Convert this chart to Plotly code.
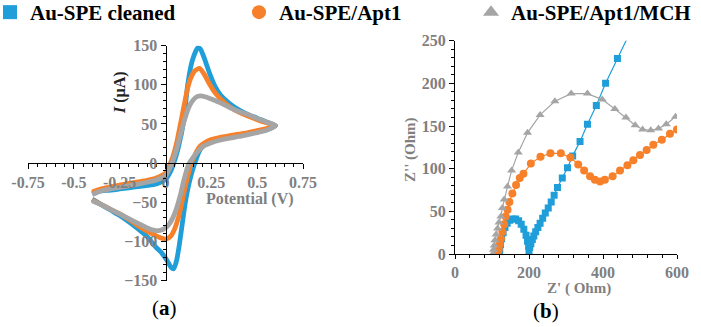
import plotly.graph_objects as go

# ---------------- data ----------------
series_names = ["Au-SPE cleaned", "Au-SPE/Apt1", "Au-SPE/Apt1/MCH"]

# (a) cyclic voltammograms: potential (V) and current (uA), one full loop each
cv_clean_V = [-0.40, -0.37, -0.30, -0.25, -0.20, -0.15, -0.10, -0.05, 0.00, 0.025, 0.045, 0.07, 0.10, 0.121, 0.145, 0.176,
              0.19, 0.21, 0.24, 0.27, 0.30, 0.35, 0.40, 0.45, 0.50, 0.55, 0.60,
              0.58, 0.55, 0.50, 0.45, 0.40, 0.35, 0.30, 0.25, 0.22, 0.20, 0.18, 0.16, 0.14, 0.12, 0.105, 0.09, 0.075,
              0.06, 0.045, 0.03, 0.01, -0.02, -0.05, -0.10, -0.15, -0.20, -0.25, -0.30, -0.35, -0.40]
cv_clean_I = [-39, -36, -34.5, -33, -31.5, -30, -28.5, -26.5, -21, -12, 0, 20, 55, 100, 130, 147.5,
              146, 135, 115, 98, 87, 76, 68, 62, 57.5, 52.5, 48,
              45, 42.5, 40, 37.5, 35.5, 33.5, 31, 28, 25, 21, 13, 0, -15, -35, -55, -80, -105,
              -125, -135, -133, -125, -115, -108, -94, -84, -75, -67, -60, -53, -46]

cv_apt_V = [-0.40, -0.35, -0.30, -0.25, -0.20, -0.15, -0.10, -0.05, 0.00, 0.02, 0.04, 0.06, 0.08, 0.10, 0.12, 0.14, 0.16,
            0.185, 0.21, 0.24, 0.27, 0.30, 0.35, 0.40, 0.45, 0.50, 0.55, 0.60,
            0.58, 0.55, 0.50, 0.45, 0.40, 0.35, 0.30, 0.25, 0.22, 0.19, 0.17, 0.15, 0.14, 0.12, 0.10, 0.085, 0.07,
            0.05, 0.03, 0.005, -0.02, -0.05, -0.10, -0.15, -0.20, -0.25, -0.30, -0.35, -0.40]
cv_apt_I = [-37, -33, -30.5, -28, -26, -24, -22, -19, -13, -4, 8, 25, 48, 72, 95, 110, 118,
            121, 114, 101, 90, 82, 72, 65, 60, 55.5, 51.5, 48,
            46, 44, 41.5, 39, 37, 35, 33, 30, 27, 22, 15, 5, 0, -18, -38, -55, -70,
            -84, -93, -97, -96, -93, -87, -80, -72, -65, -59, -53, -47]

cv_mch_V = [-0.40, -0.35, -0.30, -0.25, -0.20, -0.15, -0.10, -0.05, 0.00, 0.02, 0.04, 0.06, 0.08, 0.10, 0.12, 0.14, 0.165,
            0.19, 0.22, 0.26, 0.30, 0.35, 0.40, 0.45, 0.50, 0.55, 0.60,
            0.58, 0.55, 0.50, 0.45, 0.40, 0.35, 0.30, 0.25, 0.21, 0.18, 0.15, 0.125, 0.10, 0.08, 0.06,
            0.04, 0.02, 0.00, -0.03, -0.06, -0.10, -0.15, -0.20, -0.25, -0.30, -0.35, -0.40]
cv_mch_I = [-40, -35.5, -33, -31, -29, -27, -24.5, -21.5, -16, -8, 3, 17, 35, 52, 67, 77, 84,
            86, 84.5, 81, 77, 71, 66, 62, 57, 52.5, 48,
            45, 42, 39, 36.5, 34, 32, 29.5, 26, 22, 16, 7, -2, -22, -42, -58,
            -70, -78, -83, -86, -86, -83, -77, -71, -65, -59, -53, -48]

# (b) Nyquist plots: Z' (Ohm) and Z'' (Ohm)
eis_clean_re = [120, 121, 123, 126, 130, 135, 141, 148, 156, 164, 172, 179, 186, 192, 196, 199, 200,
                202, 205, 209, 213, 218, 224, 230, 237, 244, 252, 260, 268, 277, 290, 304, 318, 338, 358, 382,
                407, 439, 480]
eis_clean_im = [0, 5, 11, 18, 25, 31, 36, 39.5, 41, 41, 39, 35, 29, 22, 15, 9, 4,
                8, 12, 17, 21, 26, 31, 36, 42, 48, 54, 61, 69, 78, 89, 101, 115, 132, 152, 174,
                200, 229, 266]

eis_apt_re = [115, 118, 121, 124, 128, 133, 137, 142, 147, 155, 165, 175, 185, 205, 231, 258, 286, 312, 333,
              349, 365, 378, 392, 405, 426, 446, 466, 482, 500, 518, 536, 559, 581, 600]
eis_apt_im = [0, 5, 11, 18, 26, 35, 44, 52, 61, 71, 81, 89, 94, 106, 114, 118, 118, 113, 105,
              98, 91, 87, 85, 87, 91, 98, 104, 110, 116, 122, 128, 134, 141, 146]

eis_mch_re = [102, 104, 106, 108, 111, 115, 119, 124, 128, 133, 142, 153, 171, 196, 230, 270, 314, 358,
              398, 432, 462, 487, 507, 529, 550, 571, 596]
eis_mch_im = [0, 5, 10, 16, 23, 30, 37, 44, 54, 64, 79, 98, 119, 142, 163, 179, 188, 188,
              181, 170, 160, 151, 146, 145, 147, 152, 161]

cv_xticks = [-0.75, -0.5, -0.25, 0, 0.25, 0.5, 0.75]
cv_xticktext = ["-0.75", "-0.5", "-0.25", "0", "0.25", "0.5", "0.75"]

# ---------------- style ----------------
BLUE = "#1f9ed9"
ORANGE = "#f6812a"
GRAY = "#a5a5a5"
TICKGRAY = "#7f7f7f"
SERIF = "Liberation Serif, Times New Roman, serif"
W, H = 701, 327

def px_x(p):
    return p / W

def px_y(p):
    return (H - p) / H

fig = go.Figure()

# CV loops
for V, I, c in [(cv_clean_V, cv_clean_I, BLUE), (cv_apt_V, cv_apt_I, ORANGE), (cv_mch_V, cv_mch_I, GRAY)]:
    fig.add_trace(go.Scatter(x=V, y=I, xaxis="x", yaxis="y", mode="lines",
                             line=dict(color=c, width=4.8, shape="spline", smoothing=0.6),
                             showlegend=False, hoverinfo="skip"))

# Nyquist
for re_, im_, c, sym, sz in [(eis_clean_re, eis_clean_im, BLUE, "square", 7),
                             (eis_apt_re, eis_apt_im, ORANGE, "circle", 8),
                             (eis_mch_re, eis_mch_im, GRAY, "triangle-up", 8)]:
    fig.add_trace(go.Scatter(x=re_, y=im_, xaxis="x2", yaxis="y2", mode="lines+markers",
                             line=dict(color=c, width=1.2),
                             marker=dict(symbol=sym, size=sz, color=c),
                             showlegend=False, hoverinfo="skip"))

# legend entries (one legend box each, to place them like the original)
for name, c, sym, lg in [(series_names[0], BLUE, "square", "legend"),
                         (series_names[1], ORANGE, "circle", "legend2"),
                         (series_names[2], GRAY, "triangle-up", "legend3")]:
    fig.add_trace(go.Scatter(x=[None], y=[None], xaxis="x2", yaxis="y2", mode="markers",
                             marker=dict(symbol=sym, size=14, color=c),
                             name="<b>" + name + "</b>", legend=lg, showlegend=True))

legend_common = dict(y=1.0 + 8 / H, yanchor="top", xanchor="left", orientation="h",
                     bgcolor="rgba(0,0,0,0)", borderwidth=0,
                     font=dict(family=SERIF, size=21, color="black"), itemwidth=30)

tickfont = dict(family=SERIF, size=16, color=TICKGRAY, weight="bold")

y0_paper = (px_y(280.5) + px_y(45.7)) / 2

fig.update_layout(
    width=W, height=H, margin=dict(l=0, r=0, t=0, b=0, autoexpand=False),
    font=dict(family=SERIF),
    paper_bgcolor="white", plot_bgcolor="white",
    legend=dict(x=px_x(-10), **legend_common),
    legend2=dict(x=px_x(239), **legend_common),
    legend3=dict(x=px_x(471), **legend_common),
    xaxis=dict(domain=[px_x(28), px_x(303)], range=[-0.75, 0.75], anchor="free", position=y0_paper,
               tickvals=cv_xticks, ticktext=cv_xticktext, showline=True, linecolor="black", linewidth=1,
               ticks="outside", ticklen=5, tickcolor="black", tickwidth=1,
               minor=dict(dtick=0.05, ticks="outside", ticklen=3, tickcolor="black"),
               showgrid=False, zeroline=False, tickfont=tickfont, fixedrange=True),
    yaxis=dict(domain=[px_y(280.5), px_y(45.7)], range=[-150, 150], anchor="free", position=px_x(165.5),
               dtick=50, tick0=0, showline=True, linecolor="black", linewidth=1,
               ticks="outside", ticklen=5, tickcolor="black", tickwidth=1,
               minor=dict(dtick=10, ticks="outside", ticklen=3, tickcolor="black"),
               showgrid=False, zeroline=False, tickfont=tickfont, fixedrange=True),
    xaxis2=dict(domain=[px_x(455), px_x(677)], range=[0, 600], anchor="y2",
                dtick=200, tick0=0, showline=True, linecolor="black", linewidth=1,
                ticks="outside", ticklen=4, tickcolor="black", tickwidth=1,
                minor=dict(dtick=40, ticks="outside", ticklen=3, tickcolor="black"),
                showgrid=False, zeroline=False, tickfont=tickfont, fixedrange=True),
    yaxis2=dict(domain=[px_y(254), px_y(40.7)], range=[0, 250], anchor="x2",
                dtick=50, tick0=0, showline=True, linecolor="black", linewidth=1,
                ticks="outside", ticklen=5, tickcolor="black", tickwidth=1,
                minor=dict(dtick=10, ticks="outside", ticklen=3, tickcolor="black"),
                showgrid=False, zeroline=False, tickfont=tickfont, fixedrange=True),
)

ann = [
    dict(text="<b><i>I</i> (µA)</b>", x=px_x(120), y=px_y(93), textangle=-90,
         font=dict(family=SERIF, size=16, color="#222222")),
    dict(text="<b>Potential (V)</b>", x=px_x(250), y=px_y(199),
         font=dict(family=SERIF, size=16, color=TICKGRAY)),
    dict(text="<b>Z'' (Ohm)</b>", x=px_x(410), y=px_y(150), textangle=-90,
         font=dict(family=SERIF, size=15, color=TICKGRAY)),
    dict(text="<b>Z' ( Ohm)</b>", x=px_x(579), y=px_y(288),
         font=dict(family=SERIF, size=15, color=TICKGRAY)),
    dict(text="(<b>a</b>)", x=px_x(164), y=px_y(307.5),
         font=dict(family=SERIF, size=21, color="black")),
    dict(text="(<b>b</b>)", x=px_x(546), y=px_y(311),
         font=dict(family=SERIF, size=21, color="black")),
]
for a in ann:
    fig.add_annotation(xref="paper", yref="paper", showarrow=False, xanchor="center", yanchor="middle", **a)

fig.write_html("out.html", config={"displayModeBar": False},
               post_script="document.body.style.margin='0';document.body.style.overflow='hidden';")
